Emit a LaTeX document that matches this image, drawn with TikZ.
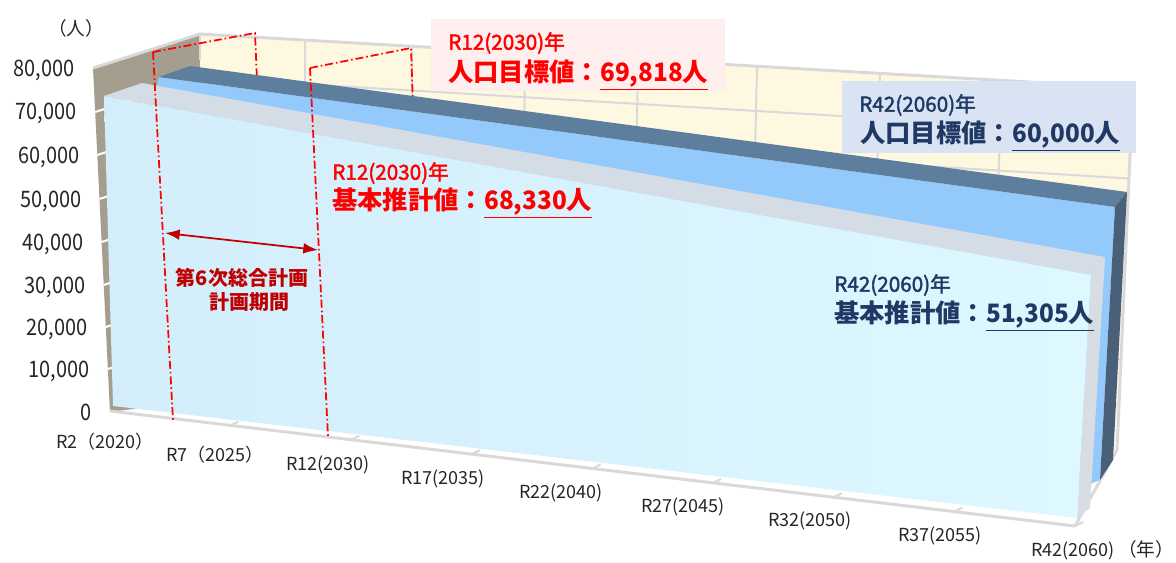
\documentclass[tikz,border=0pt]{standalone}
\usepackage{fontspec}
\setmainfont{Noto Sans CJK JP}
\newfontfamily\condfont{Noto Sans CJK JP}[FakeStretch=0.88]
\newfontfamily\digfont{Noto Sans CJK JP}[FakeStretch=0.96]
\newfontfamily\medfont{Noto Sans CJK JP}[FakeBold=2]
\usetikzlibrary{arrows.meta,calc}
\definecolor{sidewall}{HTML}{A59E8F}
\definecolor{backwall}{HTML}{FFF8E1}
\definecolor{gridc}{HTML}{D9D9D9}
\definecolor{darktop}{HTML}{5E7E9E}
\definecolor{midblue}{HTML}{94C9FB}
\definecolor{darkside}{HTML}{4A6079}
\definecolor{graytop}{HTML}{D4DDE6}
\definecolor{grayside}{HTML}{D8DDE3}
\definecolor{faceL}{HTML}{D3EDFB}
\definecolor{faceR}{HTML}{DDF8FF}
\definecolor{pinkbox}{HTML}{FFEEEE}
\definecolor{lavbox}{HTML}{DAE3F3}
\definecolor{navy}{HTML}{1F3864}
\definecolor{dred}{HTML}{C00000}
\definecolor{axtext}{HTML}{262626}
\newcommand{\numu}[1]{\underline{{\digfont\bfseries #1}人}}
\tikzset{
  gridline/.style={draw=gridc, line width=1.5},
  edgeline/.style={draw=gridc, line width=2.2},
  planline/.style={draw=red, line width=1.3, dash pattern=on 6pt off 2.2pt on 1.2pt off 2.2pt},
  ylab/.style={anchor=east, inner sep=0, text=axtext, font=\condfont\fontsize{17}{19}\selectfont},
  xlab/.style={anchor=center, inner sep=0, text=axtext, font=\fontsize{13.5}{15}\selectfont},
  unitlab/.style={anchor=center, inner sep=0, text=axtext, font=\fontsize{14}{16}\selectfont},
  anoA/.style={anchor=west, inner sep=0, font=\medfont\fontsize{15.5}{17}\selectfont},
  anoB/.style={anchor=west, inner sep=0, font=\fontsize{19}{22}\selectfont\bfseries},
  plantext/.style={anchor=center, inner sep=0, text=dred, font=\fontsize{15}{17}\selectfont\bfseries},
}
\begin{document}
\begin{tikzpicture}[x=0.75pt,y=-0.75pt]
\useasboundingbox (0,0) rectangle (1176,563);
\fill[white] (0,0) rectangle (1176,563);
% side wall
\fill[sidewall] (93,68) -- (200,34) -- (200,400) -- (110,412) -- cycle;
\foreach \yy in {112,155,199,242,285,327,369}{
  \draw[white, line width=1.5] ({93+(\yy-68)*0.0494},\yy) -- ++(40,-13);
}
% back wall
\fill[backwall] (200,34) -- (1133,88) -- (1117,450) -- (203,385) -- cycle;
\foreach \k in {1,...,7}{
  \draw[gridline] (200,{34+\k*43.9}) -- ({1133-\k*2},{88+\k*45.25});
}
\foreach \xx in {305,412,525,638,757,880,1002}{
  \pgfmathsetmacro{\t}{(\xx-200)/933}
  \draw[gridline] (\xx,{34+\t*54}) -- ({203+\t*914},{385+\t*65});
}
\draw[edgeline] (93,68) -- (200,34) -- (1133,88) -- (1117,450);
\draw[edgeline] (200,34) -- (200,60);
% floor
\draw[edgeline] (1075,526) -- (1117,450);
% plan period lines (rear parts)
\draw[planline] (153,52) -- (255,33) -- (257,80);
\draw[planline] (310,68) -- (411,48) -- (413,105);
% rear series (target)
\fill[midblue] (159,77) -- (1115,207) -- (1100,480) -- (1090,484) -- (150,110) -- cycle;
\fill[darktop] (159,77) -- (190,66) -- (1127,192) -- (1115,207) -- cycle;
\fill[darkside] (1115,207) -- (1127,192) -- (1113,460) -- (1100,480) -- cycle;
% front series (base estimate)
\fill[graytop] (104,96) -- (142,83) -- (1105,257) -- (1091,275) -- cycle;
\fill[grayside] (1091,275) -- (1105,257) -- (1090,508) -- (1077,518) -- cycle;
\shade[left color=faceL, right color=faceR] (104,96) -- (1091,275) -- (1077,518) -- (113,406) -- cycle;
% floor front edge and ticks
\coordinate (f0) at (110,411);
\coordinate (f8) at (1075,526);
\draw[edgeline] (f0) -- (f8);
\foreach \i in {1,...,8}{
  \draw[gridline] ($(f0)!\i/8!(f8)$) -- ++(8,-4);
}
% plan period front lines
\draw[planline] (153,52) -- (173,420);
\draw[planline] (310,68) -- (328,437);
\coordinate (arL) at (165,233);
\coordinate (arR) at (318,250);
\draw[dred, line width=1.3, {Latex[length=11pt,width=8pt]}-{Latex[length=11pt,width=8pt]}] (arL) -- (arR);
\node[plantext] (pt1) at (242,278) {第6次総合計画};
\node[plantext] (pt2) at (249,302) {計画期間};
% y labels
\node[ylab] (y80) at (75,70) {80,000};
\node[ylab] (y70) at (77,113) {70,000};
\node[ylab] (y60) at (79.5,157) {60,000};
\node[ylab] (y50) at (81.5,201) {50,000};
\node[ylab] (y40) at (84,244) {40,000};
\node[ylab] (y30) at (86,287) {30,000};
\node[ylab] (y20) at (88,329) {20,000};
\node[ylab] (y10) at (90,371) {10,000};
\node[ylab] (y0) at (92,412) {0};
\node[unitlab] (uy) at (76,28) {（人）};
% x labels
\node[xlab] (x1) at (105,442) {R2（2020）};
\node[xlab] (x2) at (215,455) {R7（2025）};
\node[xlab] (x3) at (328,465) {R12(2030)};
\node[xlab] (x4) at (443,479) {R17(2035)};
\node[xlab] (x5) at (561,493) {R22(2040)};
\node[xlab] (x6) at (683,507) {R27(2045)};
\node[xlab] (x7) at (810,521) {R32(2050)};
\node[xlab] (x8) at (940,536) {R37(2055)};
\node[xlab] (x9) at (1073,551) {R42(2060)};
\node[unitlab] (ux) at (1146,549) {（年）};
% annotation boxes
\fill[pinkbox] (431,19) rectangle (725,91);
\node[anoA, text=red] (a1) at (448,43) {R12(2030)年};
\node[anoB, text=red] (a2) at (448,75) {人口目標値：\numu{69,818}};
\fill[lavbox] (842,81) rectangle (1136,153);
\node[anoA, text=navy] (b1) at (859,105) {R42(2060)年};
\node[anoB, text=navy] (b2) at (860,136) {人口目標値：\numu{60,000}};
\node[anoA, text=red] (c1) at (332,173) {R12(2030)年};
\node[anoB, text=red] (c2) at (332,203) {基本推計値：\numu{68,330}};
\node[anoA, text=navy] (d1) at (834,285) {R42(2060)年};
\node[anoB, text=navy] (d2) at (834,316) {基本推計値：\numu{51,305}};
\end{tikzpicture}
\end{document}
